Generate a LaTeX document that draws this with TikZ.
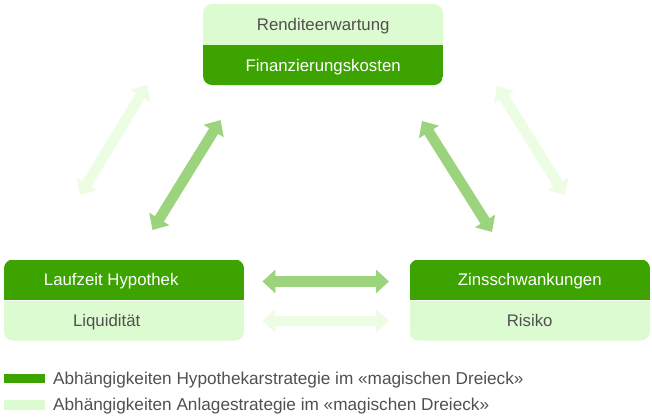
\documentclass[tikz,border=0pt]{standalone}
\usepackage{fontspec}
\setmainfont{Liberation Sans}
\usetikzlibrary{arrows.meta,positioning}
\definecolor{dunkelgruen}{RGB}{61,163,0}
\definecolor{hellgruen}{RGB}{221,251,208}
\definecolor{pfeilgruen}{RGB}{156,212,126}
\definecolor{pfeilhell}{RGB}{236,253,228}
\definecolor{textgrau}{RGB}{80,80,80}
\begin{document}
\begin{tikzpicture}[x=1pt,y=-1pt,
	hellfeld/.style={fill=hellgruen,text=textgrau,minimum width=240pt,minimum height=40.5pt,inner sep=0pt,text height=12pt,text depth=0pt,font=\fontsize{16.8}{18}\selectfont},
	dunkelfeld/.style={hellfeld,fill=dunkelgruen,text=white},
	pfeil/.style={line width=10.5pt,{Triangle[length=13pt,width=23pt]}-{Triangle[length=13pt,width=23pt]}},
	legende/.style={anchor=base west,inner sep=0pt,text=textgrau,font=\fontsize{17.2}{18}\selectfont}]
	\useasboundingbox (0,0) rectangle (652,418);
	% oben
	\begin{scope}
		\clip [rounded corners=9pt] (203,4) rectangle (443,85);
		\node [hellfeld,anchor=north west] (rendite) at (203,4) {Renditeerwartung};
		\node [dunkelfeld,below=0pt of rendite] (kosten) {Finanzierungskosten};
	\end{scope}
	% links
	\begin{scope}
		\clip [rounded corners=9pt] (4,259.5) rectangle (244,340.5);
		\node [dunkelfeld,anchor=north west] (laufzeit) at (4,259.5) {\kern-26pt Laufzeit Hypothek};
		\node [hellfeld,below=0pt of laufzeit] (liquiditaet) {\kern-35pt Liquidität};
	\end{scope}
	% rechts
	\begin{scope}
		\clip [rounded corners=9pt] (409.5,259.5) rectangle (650,340.5);
		\node [dunkelfeld,anchor=north west] (zins) at (409.5,259.5) {Zinsschwankungen};
		\node [hellfeld,below=0pt of zins] (risiko) {Risiko};
	\end{scope}
	\coordinate (lh1) at (80,195);
	\coordinate (lh2) at (147,85);
	\coordinate (ld1) at (152.5,230);
	\coordinate (ld2) at (220.5,120);
	\coordinate (rd1) at (422,121);
	\coordinate (rd2) at (492,232);
	\coordinate (rh1) at (497,86);
	\coordinate (rh2) at (565,195);
	\draw [pfeil,pfeilhell] (lh1) -- (lh2);
	\draw [pfeil,pfeilgruen] (ld1) -- (ld2);
	\draw [pfeil,pfeilgruen] (rd1) -- (rd2);
	\draw [pfeil,pfeilhell] (rh1) -- (rh2);
	\draw [pfeil,pfeilgruen,shorten <=18pt,shorten >=20.5pt] ([yshift=-1.5pt]laufzeit.east) -- ([yshift=-1.5pt]zins.west);
	\draw [pfeil,pfeilhell,shorten <=18pt,shorten >=20.5pt] (liquiditaet.east) -- (risiko.west);
	% Legende
	\node [fill=dunkelgruen,minimum width=41pt,minimum height=9.5pt,inner sep=0pt,anchor=north west] (legdunkel) at (4,373.5) {};
	\node [fill=hellgruen,minimum width=41pt,minimum height=9.5pt,inner sep=0pt,anchor=north west] (leghell) at (4,400) {};
	\node [legende] (texthypo) at (53,384) {Abhängigkeiten Hypothekarstrategie im «magischen Dreieck»};
	\node [legende] (textanlage) at (53,410.5) {Abhängigkeiten Anlagestrategie im «magischen Dreieck»};
\end{tikzpicture}
\end{document}
